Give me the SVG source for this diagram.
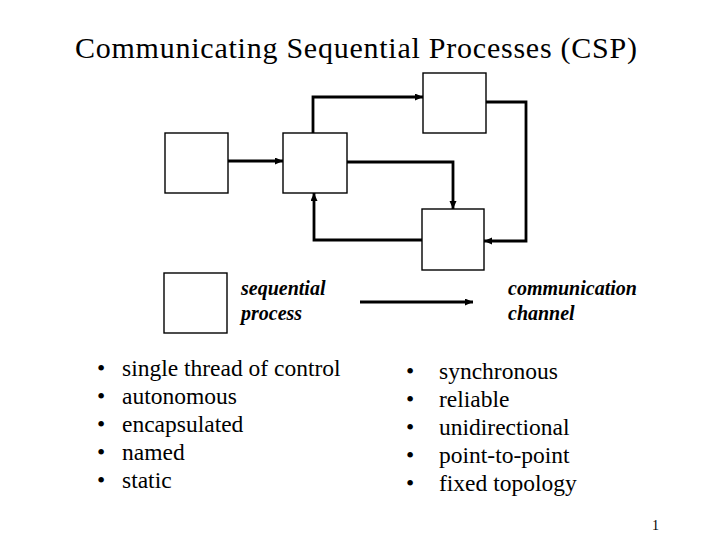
<svg xmlns="http://www.w3.org/2000/svg" width="720" height="540" viewBox="0 0 720 540">
<defs>
<style>
.t{font-family:"Liberation Serif","Times New Roman",serif;fill:#000}
.title{font-size:30px}
.b{font-size:23.5px}
.lab{font-size:20px;font-weight:bold;font-style:italic}
.box{fill:#fff;stroke:#000;stroke-width:1.4}
.c{fill:none;stroke:#000;stroke-width:2.8;marker-end:url(#ah)}
</style>
<marker id="ah" markerUnits="userSpaceOnUse" markerWidth="9" markerHeight="8" refX="8" refY="3.5" orient="auto">
<path d="M0,0 L8,3.5 L0,7 z" fill="#000"/>
</marker>
</defs>
<rect width="720" height="540" fill="#fff"/>
<text class="t title" x="75" y="58" textLength="562" lengthAdjust="spacing">Communicating Sequential Processes (CSP)</text>
<g id="connectors">
<path class="c" d="M228,161 H283"/>
<path class="c" d="M313,133 V97 H423"/>
<path class="c" d="M347,162 H453 V209"/>
<path class="c" d="M486,102 H526 V241 H484"/>
<path class="c" d="M422,240 H314 V193"/>
<path id="legend-channel" class="c" d="M360,302 H473"/>
</g>
<g id="node-a"><rect class="box" x="165" y="133" width="63" height="60"/></g>
<g id="node-b"><rect class="box" x="283" y="133" width="64" height="60"/></g>
<g id="node-c"><rect class="box" x="423" y="73" width="63" height="60"/></g>
<g id="node-d"><rect class="box" x="422" y="209" width="62" height="61"/></g>
<g id="legend-process"><rect class="box" x="164" y="273" width="63" height="60"/></g>
<g id="labels">
<text class="t lab" x="241" y="295">sequential</text>
<text class="t lab" x="241" y="320">process</text>
<text class="t lab" x="508" y="295">communication</text>
<text class="t lab" x="508" y="320">channel</text>
</g>
<g id="left-list" class="t b">
<text x="97" y="376">•</text><text x="122" y="376">single thread of control</text>
<text x="97" y="404">•</text><text x="122" y="404">autonomous</text>
<text x="97" y="432">•</text><text x="122" y="432">encapsulated</text>
<text x="97" y="460">•</text><text x="122" y="460">named</text>
<text x="97" y="488">•</text><text x="122" y="488">static</text>
</g>
<g id="right-list" class="t b">
<text x="406" y="379">•</text><text x="439" y="379">synchronous</text>
<text x="406" y="407">•</text><text x="439" y="407">reliable</text>
<text x="406" y="435">•</text><text x="439" y="435">unidirectional</text>
<text x="406" y="463">•</text><text x="439" y="463">point-to-point</text>
<text x="406" y="491">•</text><text x="439" y="491">fixed topology</text>
</g>
<text class="t" x="652" y="530" font-size="14">1</text>
</svg>
